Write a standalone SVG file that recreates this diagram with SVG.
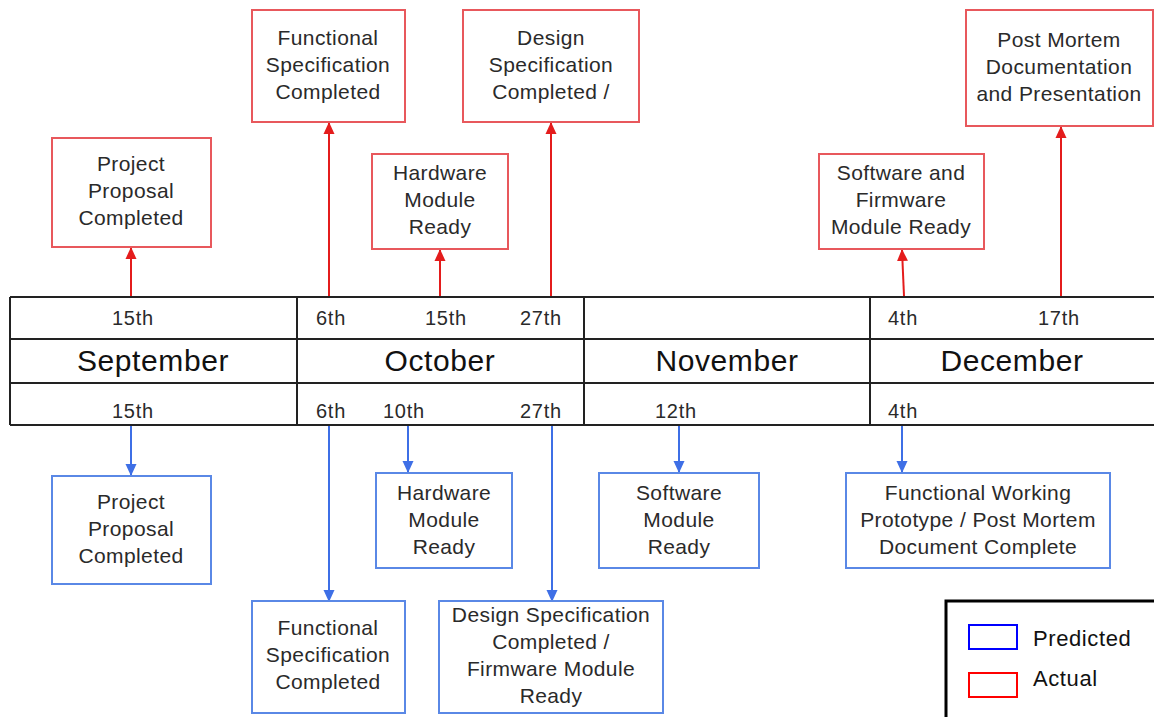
<svg xmlns="http://www.w3.org/2000/svg" width="1154" height="717" viewBox="0 0 1154 717">
  <style>
    text { font-family: "Liberation Sans", Arial, sans-serif; fill: #2a2a2a; text-anchor: middle; }
    .lbl { font-size: 21px; letter-spacing: 0.4px; }
    .date { font-size: 20px; letter-spacing: 0.8px; }
    .month { font-size: 30px; letter-spacing: 0.6px; fill: #111; }
    .legend { font-size: 22px; letter-spacing: 0.6px; text-anchor: start; fill: #111; }
    .actual { fill: #fff; stroke: #e8585c; stroke-width: 2; }
    .pred { fill: #fff; stroke: #5a88e6; stroke-width: 2; }
    .grid { stroke: #222; stroke-width: 2; fill: none; }
    .up { stroke: #e41c1c; stroke-width: 2; fill: none; marker-end: url(#redHead); }
    .down { stroke: #3e6fe6; stroke-width: 2; fill: none; marker-end: url(#blueHead); }
  </style>
  <defs>
    <marker id="redHead" markerWidth="12" markerHeight="12" refX="11" refY="6" orient="auto" markerUnits="userSpaceOnUse">
      <path d="M0,0.5 L12,6 L0,11.5 Z" fill="#e41c1c"/>
    </marker>
    <marker id="blueHead" markerWidth="12" markerHeight="12" refX="11" refY="6" orient="auto" markerUnits="userSpaceOnUse">
      <path d="M0,0.5 L12,6 L0,11.5 Z" fill="#3e6fe6"/>
    </marker>
  </defs>
  <rect width="1154" height="717" fill="#fff"/>

  <!-- timeline table -->
  <g id="timeline">
    <path class="grid" d="M10,297 H1154 M10,339 H1154 M10,383 H1154 M10,425 H1154 M10,297 V425 M297,297 V425 M584,297 V425 M870,297 V425"/>
    <text class="date" x="133" y="325">15th</text>
    <text class="date" x="331" y="325">6th</text>
    <text class="date" x="446" y="325">15th</text>
    <text class="date" x="541" y="325">27th</text>
    <text class="date" x="903" y="325">4th</text>
    <text class="date" x="1059" y="325">17th</text>
    <text class="month" x="153" y="371">September</text>
    <text class="month" x="440" y="371">October</text>
    <text class="month" x="727" y="371">November</text>
    <text class="month" x="1012" y="371">December</text>
    <text class="date" x="133" y="418">15th</text>
    <text class="date" x="331" y="418">6th</text>
    <text class="date" x="404" y="418">10th</text>
    <text class="date" x="541" y="418">27th</text>
    <text class="date" x="676" y="418">12th</text>
    <text class="date" x="903" y="418">4th</text>
  </g>

  <!-- connectors -->
  <g id="connectors">
    <line class="up" x1="131" y1="296" x2="131" y2="248"/>
    <line class="up" x1="329" y1="296" x2="329" y2="123"/>
    <line class="up" x1="440" y1="296" x2="440" y2="250"/>
    <line class="up" x1="551" y1="296" x2="551" y2="123"/>
    <line class="up" x1="904" y1="296" x2="902" y2="250"/>
    <line class="up" x1="1061" y1="296" x2="1061" y2="127"/>
    <line class="down" x1="131" y1="426" x2="131" y2="475"/>
    <line class="down" x1="329" y1="426" x2="329" y2="601"/>
    <line class="down" x1="408" y1="426" x2="408" y2="472"/>
    <line class="down" x1="552" y1="426" x2="552" y2="601"/>
    <line class="down" x1="679" y1="426" x2="679" y2="472"/>
    <line class="down" x1="902" y1="426" x2="902" y2="472"/>
  </g>

  <!-- actual milestones -->
  <g id="actual-project-proposal">
    <rect class="actual" x="52" y="138" width="159" height="109"/>
    <text class="lbl" x="131" y="171">Project</text>
    <text class="lbl" x="131" y="198">Proposal</text>
    <text class="lbl" x="131" y="225">Completed</text>
  </g>
  <g id="actual-functional-spec">
    <rect class="actual" x="252" y="10" width="153" height="112"/>
    <text class="lbl" x="328" y="45">Functional</text>
    <text class="lbl" x="328" y="72">Specification</text>
    <text class="lbl" x="328" y="99">Completed</text>
  </g>
  <g id="actual-hardware">
    <rect class="actual" x="372" y="154" width="136" height="95"/>
    <text class="lbl" x="440" y="180">Hardware</text>
    <text class="lbl" x="440" y="207">Module</text>
    <text class="lbl" x="440" y="234">Ready</text>
  </g>
  <g id="actual-design-spec">
    <rect class="actual" x="463" y="10" width="176" height="112"/>
    <text class="lbl" x="551" y="45">Design</text>
    <text class="lbl" x="551" y="72">Specification</text>
    <text class="lbl" x="551" y="99">Completed /</text>
  </g>
  <g id="actual-software-firmware">
    <rect class="actual" x="819" y="154" width="165" height="95"/>
    <text class="lbl" x="901" y="180">Software and</text>
    <text class="lbl" x="901" y="207">Firmware</text>
    <text class="lbl" x="901" y="234">Module Ready</text>
  </g>
  <g id="actual-post-mortem">
    <rect class="actual" x="966" y="10" width="187" height="116"/>
    <text class="lbl" x="1059" y="47">Post Mortem</text>
    <text class="lbl" x="1059" y="74">Documentation</text>
    <text class="lbl" x="1059" y="101">and Presentation</text>
  </g>

  <!-- predicted milestones -->
  <g id="pred-project-proposal">
    <rect class="pred" x="52" y="476" width="159" height="108"/>
    <text class="lbl" x="131" y="509">Project</text>
    <text class="lbl" x="131" y="536">Proposal</text>
    <text class="lbl" x="131" y="563">Completed</text>
  </g>
  <g id="pred-hardware">
    <rect class="pred" x="376" y="473" width="136" height="95"/>
    <text class="lbl" x="444" y="500">Hardware</text>
    <text class="lbl" x="444" y="527">Module</text>
    <text class="lbl" x="444" y="554">Ready</text>
  </g>
  <g id="pred-software">
    <rect class="pred" x="599" y="473" width="160" height="95"/>
    <text class="lbl" x="679" y="500">Software</text>
    <text class="lbl" x="679" y="527">Module</text>
    <text class="lbl" x="679" y="554">Ready</text>
  </g>
  <g id="pred-prototype">
    <rect class="pred" x="846" y="473" width="264" height="95"/>
    <text class="lbl" x="978" y="500">Functional Working</text>
    <text class="lbl" x="978" y="527">Prototype / Post Mortem</text>
    <text class="lbl" x="978" y="554">Document Complete</text>
  </g>
  <g id="pred-functional-spec">
    <rect class="pred" x="252" y="601" width="153" height="112"/>
    <text class="lbl" x="328" y="635">Functional</text>
    <text class="lbl" x="328" y="662">Specification</text>
    <text class="lbl" x="328" y="689">Completed</text>
  </g>
  <g id="pred-design-spec">
    <rect class="pred" x="439" y="601" width="224" height="112"/>
    <text class="lbl" x="551" y="622">Design Specification</text>
    <text class="lbl" x="551" y="649">Completed /</text>
    <text class="lbl" x="551" y="676">Firmware Module</text>
    <text class="lbl" x="551" y="703">Ready</text>
  </g>

  <!-- legend -->
  <g id="legend">
    <path d="M946,720 V601 H1156" fill="none" stroke="#000" stroke-width="3"/>
    <rect x="969" y="625" width="48" height="24" fill="none" stroke="#0000ff" stroke-width="2"/>
    <rect x="969" y="673" width="48" height="24" fill="none" stroke="#ff0000" stroke-width="2"/>
    <text class="legend" x="1033" y="646">Predicted</text>
    <text class="legend" x="1033" y="686">Actual</text>
  </g>
</svg>
